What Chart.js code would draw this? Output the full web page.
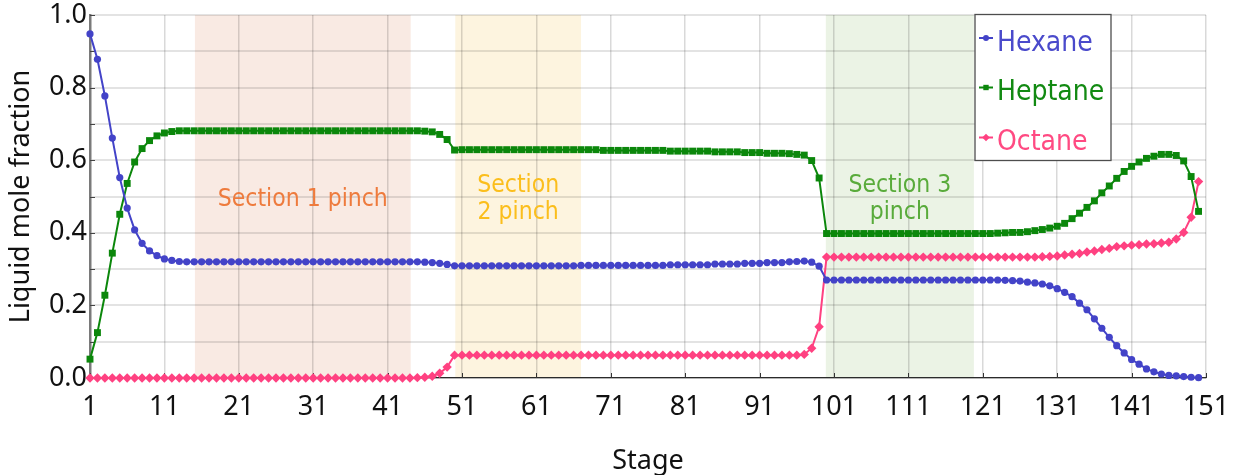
<!DOCTYPE html>
<html>
<head>
<meta charset="utf-8">
<script src="https://cdn.jsdelivr.net/npm/chart.js@4.4.1/dist/chart.umd.min.js"></script>
<style>
  html, body { margin: 0; padding: 0; background: #ffffff; }
  canvas { display: block; }
</style>
</head>
<body>
<canvas id="profile" width="1233" height="475"></canvas>
<script>
// Liquid composition on every stage of the column (stage 1 = top)
const hexane = [
  0.948, 0.878, 0.777, 0.661, 0.552, 0.468, 0.408, 0.371, 0.350, 0.337, 0.328, 0.324, 0.321,
  0.320, 0.320, 0.320, 0.320, 0.320, 0.320, 0.320, 0.320,
  0.320, 0.320, 0.320, 0.320, 0.320, 0.320, 0.320, 0.320,
  0.320, 0.320, 0.320, 0.320, 0.320, 0.320, 0.320, 0.320,
  0.320, 0.320, 0.320, 0.320, 0.320, 0.320, 0.320, 0.320,
  0.319, 0.318, 0.316, 0.313, 0.309,
  0.309, 0.309, 0.309, 0.309, 0.309, 0.309, 0.309, 0.309,
  0.309, 0.309, 0.309, 0.309, 0.309, 0.309, 0.309, 0.309,
  0.310, 0.310, 0.310, 0.310, 0.310, 0.310, 0.310, 0.310, 0.310, 0.310, 0.310, 0.310,
  0.312, 0.312, 0.312, 0.312, 0.312, 0.312,
  0.314, 0.314, 0.314, 0.314,
  0.316, 0.316, 0.316,
  0.318, 0.318, 0.318,
  0.320, 0.321, 0.322, 0.319, 0.308,
  0.270, 0.270, 0.270, 0.270, 0.270, 0.270, 0.270, 0.270,
  0.270, 0.270, 0.270, 0.270, 0.270, 0.270, 0.270, 0.270,
  0.270, 0.270, 0.270, 0.270, 0.270, 0.270, 0.270, 0.270,
  0.269, 0.268, 0.267, 0.264, 0.262, 0.259, 0.254, 0.246, 0.236, 0.224, 0.206, 0.188, 0.163, 0.137,
  0.112, 0.089, 0.069, 0.051, 0.038, 0.025, 0.017, 0.011, 0.007, 0.006, 0.004, 0.002, 0.001
];

const heptane = [
  0.052, 0.125, 0.228, 0.344, 0.451, 0.536, 0.595, 0.632, 0.654, 0.667, 0.675, 0.679, 0.681,
  0.681, 0.681, 0.681, 0.681, 0.681, 0.681, 0.681, 0.681,
  0.681, 0.681, 0.681, 0.681, 0.681, 0.681, 0.681, 0.681,
  0.681, 0.681, 0.681, 0.681, 0.681, 0.681, 0.681, 0.681,
  0.681, 0.681, 0.681, 0.681, 0.681, 0.681, 0.681, 0.681,
  0.680, 0.678, 0.671, 0.657, 0.628,
  0.629, 0.629, 0.629, 0.629, 0.629, 0.629, 0.629, 0.629, 0.629, 0.629,
  0.629, 0.629, 0.629, 0.629, 0.629, 0.629, 0.629, 0.629, 0.629,
  0.627, 0.627, 0.627, 0.627, 0.627, 0.627, 0.627, 0.627, 0.627,
  0.625, 0.625, 0.625, 0.625, 0.625, 0.625,
  0.623, 0.623, 0.623, 0.623,
  0.621, 0.621, 0.621,
  0.619, 0.619, 0.619,
  0.618, 0.616, 0.614, 0.599, 0.551,
  0.398, 0.398, 0.398, 0.398, 0.398, 0.398, 0.398, 0.398,
  0.398, 0.398, 0.398, 0.398, 0.398, 0.398, 0.398, 0.398,
  0.398, 0.398, 0.398, 0.398, 0.398, 0.398, 0.398,
  0.399, 0.400, 0.401, 0.401, 0.403, 0.406, 0.409, 0.413, 0.418, 0.426, 0.439, 0.454, 0.470, 0.488,
  0.510, 0.529, 0.550, 0.569, 0.583, 0.595, 0.605, 0.611, 0.616, 0.616, 0.613, 0.598, 0.555, 0.459
];

const octane = [
  0.000, 0.000, 0.000, 0.000, 0.000, 0.000, 0.000, 0.000, 0.000, 0.000, 0.000,
  0.000, 0.000, 0.000, 0.000, 0.000, 0.000, 0.000, 0.000, 0.000, 0.000, 0.000,
  0.000, 0.000, 0.000, 0.000, 0.000, 0.000, 0.000, 0.000, 0.000, 0.000, 0.000,
  0.000, 0.000, 0.000, 0.000, 0.000, 0.000, 0.000, 0.000, 0.000, 0.000, 0.000,
  0.001, 0.002, 0.005, 0.013, 0.030,
  0.063, 0.063, 0.063, 0.063, 0.063, 0.063, 0.063, 0.063, 0.063, 0.063,
  0.063, 0.063, 0.063, 0.063, 0.063, 0.063, 0.063, 0.063, 0.063, 0.063,
  0.063, 0.063, 0.063, 0.063, 0.063, 0.063, 0.063, 0.063, 0.063, 0.063,
  0.063, 0.063, 0.063, 0.063, 0.063, 0.063, 0.063, 0.063, 0.063, 0.063,
  0.063, 0.063, 0.063, 0.063, 0.063, 0.063, 0.063,
  0.065, 0.082, 0.141,
  0.333, 0.333, 0.333, 0.333, 0.333, 0.333, 0.333, 0.333, 0.333, 0.333,
  0.333, 0.333, 0.333, 0.333, 0.333, 0.333, 0.333, 0.333, 0.333, 0.333,
  0.333, 0.333, 0.333, 0.333, 0.333, 0.333, 0.333, 0.333, 0.333,
  0.334, 0.335, 0.336, 0.339, 0.341, 0.343, 0.347, 0.350, 0.354, 0.357, 0.362,
  0.364, 0.366, 0.367, 0.369, 0.370, 0.372, 0.374, 0.383, 0.401, 0.443, 0.541
];

// Stage numbers follow the position of each value in the profiles
const stages = hexane.map((_, i) => i + 1);

const stageTicks = [1, 11, 21, 31, 41, 51, 61, 71, 81, 91, 101, 111, 121, 131, 141, 151];
const fractionTicks = [0, 0.1, 0.2, 0.3, 0.4, 0.5, 0.6, 0.7, 0.8, 0.9, 1.0];

// Pinch zones (stage ranges) and their captions
const pinchSpans = [[15.1, 44.1], [50.1, 67.0], [99.9, 119.8]];
const pinchCaptions = [["Section 1 pinch"], ["Section", "2 pinch"], ["Section 3", "pinch"]];

const seriesNames = ["Hexane", "Heptane", "Octane"];

const COLORS = {
  hexane: "#4343c8",
  heptane: "#0b870b",
  octane: "#ff4181"
};
const pinchFill = ["#f9eae3", "#fdf4df", "#ebf3e5"];
const pinchText = ["#ee7b3d", "#fbbe1c", "#59ab3b"];

const FONT_UI = "'Noto Sans', 'Open Sans', sans-serif";
const FONT_NOTE = "'DejaVu Sans Condensed', 'DejaVu Sans', sans-serif";

// Shaded pinch bands, drawn under the grid
const pinchBands = {
  id: "pinchBands",
  beforeDraw(chart) {
    const { ctx, chartArea: a, scales: { x } } = chart;
    ctx.save();
    pinchSpans.forEach((span, i) => {
      const x0 = x.getPixelForValue(span[0]);
      const x1 = x.getPixelForValue(span[1]);
      ctx.fillStyle = pinchFill[i];
      ctx.fillRect(x0, a.top, x1 - x0, a.bottom - a.top);
    });
    ctx.restore();
  },
  beforeDatasetsDraw(chart) {
    const { ctx, scales: { x, y } } = chart;
    ctx.save();
    ctx.font = "24.5px " + FONT_NOTE;
    ctx.textAlign = "center";
    ctx.textBaseline = "alphabetic";
    pinchSpans.forEach((span, i) => {
      const cx = x.getPixelForValue((span[0] + span[1]) / 2);
      const lines = pinchCaptions[i];
      const first = lines.length === 1 ? y.getPixelForValue(0.474) : y.getPixelForValue(0.512);
      ctx.fillStyle = pinchText[i];
      lines.forEach((t, k) => ctx.fillText(t, cx, first + k * 27.3));
    });
    // small inward tick marks on both axes
    ctx.strokeStyle = "#333333";
    ctx.lineWidth = 1;
    stageTicks.forEach(v => {
      const px = Math.round(x.getPixelForValue(v)) + 0.5;
      ctx.beginPath();
      ctx.moveTo(px, y.bottom);
      ctx.lineTo(px, y.bottom - 5);
      ctx.stroke();
    });
    ctx.strokeStyle = "#444444";
    fractionTicks.forEach(v => {
      const py = Math.round(y.getPixelForValue(v)) + 0.5;
      ctx.beginPath();
      ctx.moveTo(x.left, py);
      ctx.lineTo(x.left + 5, py);
      ctx.stroke();
    });
    ctx.restore();
  }
};

// Boxed legend with line-and-marker keys
const boxedLegend = {
  id: "boxedLegend",
  afterDraw(chart) {
    const { ctx } = chart;
    const left = 975, top = 14.5, w = 136, h = 146;
    ctx.save();
    ctx.fillStyle = "#ffffff";
    ctx.fillRect(left, top, w, h);
    ctx.strokeStyle = "#4d4d4d";
    ctx.lineWidth = 1.3;
    ctx.strokeRect(left, top, w, h);
    const rowBase = [50.5, 100, 150];
    const textColors = ["#4a4acb", "#128a12", "#ff4a82"];
    chart.data.datasets.forEach((ds, i) => {
      const my = rowBase[i] - 12.5;
      ctx.strokeStyle = ds.borderColor;
      ctx.lineWidth = 2;
      ctx.beginPath();
      ctx.moveTo(979, my);
      ctx.lineTo(993, my);
      ctx.stroke();
      ctx.fillStyle = ds.borderColor;
      Chart.helpers.drawPoint(ctx, {
        pointStyle: ds.pointStyle, radius: ds.pointStyle === "circle" ? 3 : 3.8,
        rotation: 0, borderWidth: 0
      }, 986, my);
      ctx.font = "28px " + FONT_NOTE;
      ctx.textAlign = "left";
      ctx.textBaseline = "alphabetic";
      ctx.fillStyle = textColors[i];
      ctx.fillText(ds.label, 997, rowBase[i]);
    });
    ctx.restore();
  }
};

const series = [hexane, heptane, octane];
const styles = [
  { color: COLORS.hexane, point: "circle", r: 3.6 },
  { color: COLORS.heptane, point: "rect", r: 4.9 },
  { color: COLORS.octane, point: "rectRot", r: 4.7 }
];

new Chart(document.getElementById("profile"), {
  type: "line",
  data: {
    labels: stages,
    datasets: series.map((vals, i) => ({
      label: seriesNames[i],
      data: vals,
      borderColor: styles[i].color,
      backgroundColor: styles[i].color,
      borderWidth: 2,
      pointStyle: styles[i].point,
      pointRadius: styles[i].r,
      pointHoverRadius: styles[i].r,
      pointBorderWidth: 0,
      pointBackgroundColor: styles[i].color,
      tension: 0,
      fill: false,
      clip: false
    }))
  },
  options: {
    responsive: false,
    animation: false,
    devicePixelRatio: 1,
    events: [],
    layout: { padding: { left: 0, right: 27, top: 15, bottom: 0 } },
    plugins: {
      legend: { display: false },
      tooltip: { enabled: false }
    },
    scales: {
      x: {
        type: "linear",
        min: 1,
        max: 151,
        afterBuildTicks(scale) { scale.ticks = stageTicks.map(v => ({ value: v })); },
        afterFit(scale) {
          scale.height = 97;
          scale.paddingLeft = 0;
          scale.paddingRight = 0;
        },
        grid: { color: "rgba(0,0,0,0.15)", lineWidth: 1.5, drawTicks: false },
        border: { display: true, color: "#2b2b2b", width: 1.2 },
        ticks: {
          autoSkip: false,
          maxRotation: 0,
          padding: 13,
          color: "#111111",
          font: { family: FONT_UI, size: 27 },
          callback: v => String(v)
        },
        title: {
          display: true,
          text: "Stage",
          color: "#111111",
          font: { family: FONT_UI, size: 27, lineHeight: 1 },
          padding: { top: 0, bottom: 0 }
        }
      },
      y: {
        min: 0,
        max: 1,
        afterBuildTicks(scale) { scale.ticks = fractionTicks.map(v => ({ value: v })); },
        afterFit(scale) {
          scale.width = 90;
          scale.paddingTop = 0;
          scale.paddingBottom = 0;
        },
        grid: { color: "rgba(0,0,0,0.11)", lineWidth: 2, drawTicks: false },
        border: { display: true, color: "#7a7a7a", width: 2.5 },
        ticks: {
          autoSkip: false,
          padding: 3,
          color: "#111111",
          font: { family: FONT_UI, size: 27, lineHeight: 1 },
          callback: v => (Math.round(v * 10) % 2 === 0 ? v.toFixed(1) : "")
        },
        title: {
          display: true,
          text: "Liquid mole fraction",
          color: "#111111",
          font: { family: FONT_UI, size: 27, lineHeight: 1 },
          padding: { top: 8, bottom: 0 }
        }
      }
    }
  },
  plugins: [pinchBands, boxedLegend]
});
</script>
</body>
</html>
